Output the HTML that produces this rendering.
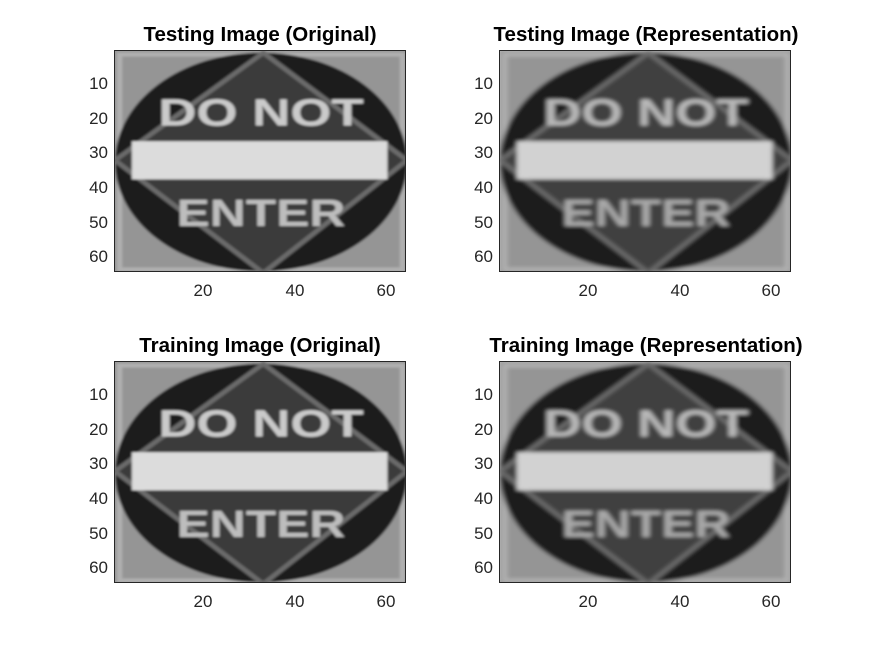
<!DOCTYPE html>
<html><head><meta charset="utf-8"><style>
body{margin:0;background:#fff;width:875px;height:656px;overflow:hidden;position:relative;font-family:"Liberation Sans",Arial,sans-serif;}
.t{position:absolute;font-weight:bold;font-size:20.5px;color:#000;text-align:center;width:400px;}
.yl{position:absolute;font-size:17px;color:#262626;width:40px;text-align:right;}
.xl{position:absolute;font-size:17px;color:#262626;width:40px;text-align:center;}
.ax{position:absolute;width:292px;height:222px;border:1px solid #262626;box-sizing:border-box;overflow:hidden}
.ax svg{display:block}
</style></head><body>
<svg width="0" height="0" style="position:absolute"><filter id="bl"><feGaussianBlur stdDeviation="0.55"/></filter><filter id="bs"><feGaussianBlur stdDeviation="0.3"/></filter></svg>

<div class="t" style="left:60px;top:23px">Testing Image (Original)</div>
<div class="t" style="left:446px;top:23px">Testing Image (Representation)</div>
<div class="t" style="left:60px;top:334px">Training Image (Original)</div>
<div class="t" style="left:446px;top:334px">Training Image (Representation)</div>

<div class="ax" style="left:114px;top:50px"><svg width="292" height="222" viewBox="0.5 0.5 64 64" preserveAspectRatio="none"><g filter="url(#bs)">
<rect x="0" y="0" width="66" height="66" fill="#959595"/><rect x="1.5" y="1.5" width="62" height="62" fill="none" stroke="#b0b0b0" stroke-width="1.2"/>
<ellipse cx="32.5" cy="32.5" rx="32" ry="31.5" fill="#1c1c1c"/>
<polygon points="33,1 64.5,32 33,64.5 0.5,32" fill="#3a3a3a" stroke="#6a6a6a" stroke-width="1.2"/>
<rect x="4.2" y="26.5" width="56" height="11" fill="#dcdcdc"/>
<text x="10" y="22" font-size="11" font-weight="bold" fill="#cacaca" textLength="45" lengthAdjust="spacingAndGlyphs" font-family="Liberation Sans">DO NOT</text>
<text x="14" y="51" font-size="11" font-weight="bold" fill="#bdbdbd" textLength="37" lengthAdjust="spacingAndGlyphs" font-family="Liberation Sans">ENTER</text></g></svg></div>

<div class="ax" style="left:499px;top:50px"><svg width="292" height="222" viewBox="0.5 0.5 64 64" preserveAspectRatio="none"><g filter="url(#bl)">
<rect x="0" y="0" width="66" height="66" fill="#959595"/><rect x="1.5" y="1.5" width="62" height="62" fill="none" stroke="#b0b0b0" stroke-width="1.2"/>
<ellipse cx="32.5" cy="32.5" rx="32" ry="31.5" fill="#1c1c1c"/>
<polygon points="33,1 64.5,32 33,64.5 0.5,32" fill="#3f3f3f" stroke="#6a6a6a" stroke-width="1.2"/>
<rect x="4.2" y="26.5" width="56" height="11" fill="#d2d2d2"/>
<text x="10" y="22" font-size="11" font-weight="bold" fill="#b8b8b8" textLength="45" lengthAdjust="spacingAndGlyphs" font-family="Liberation Sans">DO NOT</text>
<text x="14" y="51" font-size="11" font-weight="bold" fill="#a8a8a8" textLength="37" lengthAdjust="spacingAndGlyphs" font-family="Liberation Sans">ENTER</text></g></svg></div>

<div class="ax" style="left:114px;top:361px"><svg width="292" height="222" viewBox="0.5 0.5 64 64" preserveAspectRatio="none"><g filter="url(#bs)">
<rect x="0" y="0" width="66" height="66" fill="#959595"/><rect x="1.5" y="1.5" width="62" height="62" fill="none" stroke="#b0b0b0" stroke-width="1.2"/>
<ellipse cx="32.5" cy="32.5" rx="32" ry="31.5" fill="#1c1c1c"/>
<polygon points="33,1 64.5,32 33,64.5 0.5,32" fill="#3a3a3a" stroke="#6a6a6a" stroke-width="1.2"/>
<rect x="4.2" y="26.5" width="56" height="11" fill="#dcdcdc"/>
<text x="10" y="22" font-size="11" font-weight="bold" fill="#cacaca" textLength="45" lengthAdjust="spacingAndGlyphs" font-family="Liberation Sans">DO NOT</text>
<text x="14" y="51" font-size="11" font-weight="bold" fill="#bdbdbd" textLength="37" lengthAdjust="spacingAndGlyphs" font-family="Liberation Sans">ENTER</text></g></svg></div>

<div class="ax" style="left:499px;top:361px"><svg width="292" height="222" viewBox="0.5 0.5 64 64" preserveAspectRatio="none"><g filter="url(#bl)">
<rect x="0" y="0" width="66" height="66" fill="#959595"/><rect x="1.5" y="1.5" width="62" height="62" fill="none" stroke="#b0b0b0" stroke-width="1.2"/>
<ellipse cx="32.5" cy="32.5" rx="32" ry="31.5" fill="#1c1c1c"/>
<polygon points="33,1 64.5,32 33,64.5 0.5,32" fill="#3f3f3f" stroke="#6a6a6a" stroke-width="1.2"/>
<rect x="4.2" y="26.5" width="56" height="11" fill="#d2d2d2"/>
<text x="10" y="22" font-size="11" font-weight="bold" fill="#b8b8b8" textLength="45" lengthAdjust="spacingAndGlyphs" font-family="Liberation Sans">DO NOT</text>
<text x="14" y="51" font-size="11" font-weight="bold" fill="#a8a8a8" textLength="37" lengthAdjust="spacingAndGlyphs" font-family="Liberation Sans">ENTER</text></g></svg></div>

<div class="yl" style="left:68px;top:74px">10</div><div class="yl" style="left:68px;top:109px">20</div><div class="yl" style="left:68px;top:143px">30</div><div class="yl" style="left:68px;top:178px">40</div><div class="yl" style="left:68px;top:213px">50</div><div class="yl" style="left:68px;top:247px">60</div>
<div class="yl" style="left:68px;top:385px">10</div><div class="yl" style="left:68px;top:420px">20</div><div class="yl" style="left:68px;top:454px">30</div><div class="yl" style="left:68px;top:489px">40</div><div class="yl" style="left:68px;top:524px">50</div><div class="yl" style="left:68px;top:558px">60</div>
<div class="yl" style="left:453px;top:74px">10</div><div class="yl" style="left:453px;top:109px">20</div><div class="yl" style="left:453px;top:143px">30</div><div class="yl" style="left:453px;top:178px">40</div><div class="yl" style="left:453px;top:213px">50</div><div class="yl" style="left:453px;top:247px">60</div>
<div class="yl" style="left:453px;top:385px">10</div><div class="yl" style="left:453px;top:420px">20</div><div class="yl" style="left:453px;top:454px">30</div><div class="yl" style="left:453px;top:489px">40</div><div class="yl" style="left:453px;top:524px">50</div><div class="yl" style="left:453px;top:558px">60</div>
<div class="xl" style="left:183px;top:281px">20</div><div class="xl" style="left:275px;top:281px">40</div><div class="xl" style="left:366px;top:281px">60</div>
<div class="xl" style="left:568px;top:281px">20</div><div class="xl" style="left:660px;top:281px">40</div><div class="xl" style="left:751px;top:281px">60</div>
<div class="xl" style="left:183px;top:592px">20</div><div class="xl" style="left:275px;top:592px">40</div><div class="xl" style="left:366px;top:592px">60</div>
<div class="xl" style="left:568px;top:592px">20</div><div class="xl" style="left:660px;top:592px">40</div><div class="xl" style="left:751px;top:592px">60</div>
</body></html>
